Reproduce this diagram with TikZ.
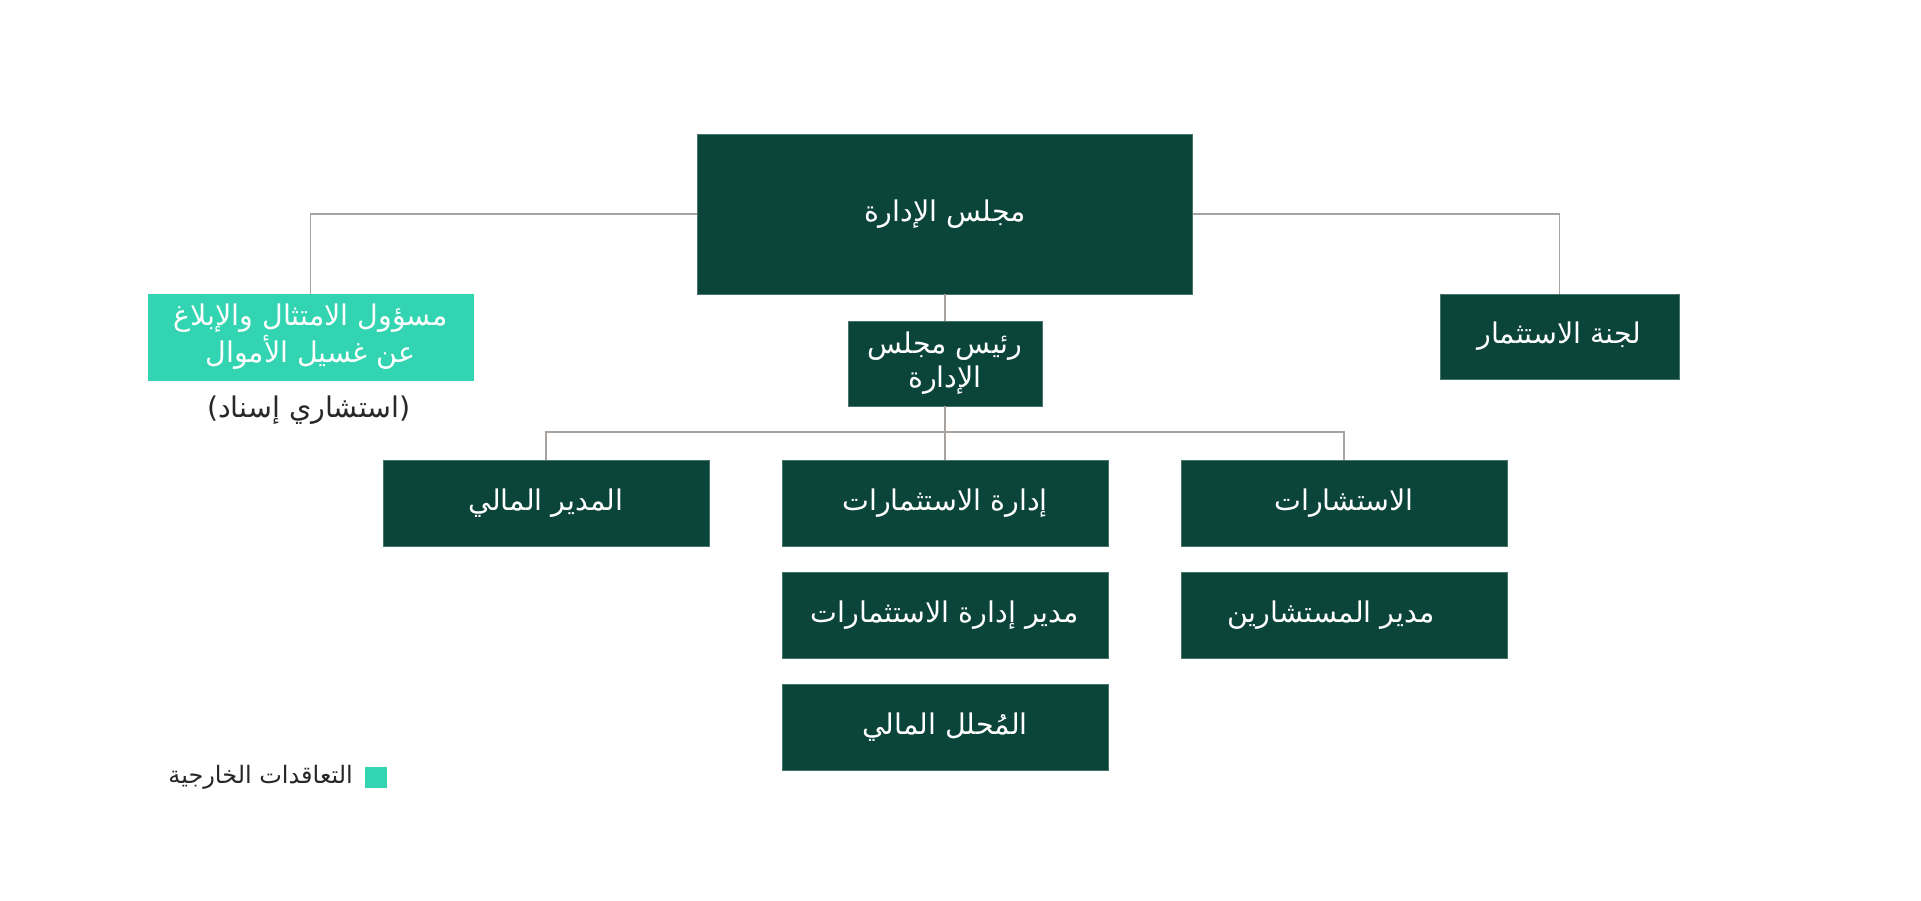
\documentclass[tikz,border=0pt]{standalone}
\usepackage{fontspec}
\TeXXeTstate=1
\newfontfamily\arabicfont[Script=Arabic]{DejaVu Sans}
\definecolor{dkgreen}{RGB}{11,69,58}
\definecolor{teal}{RGB}{51,212,177}
\definecolor{linegray}{RGB}{168,163,158}
\definecolor{txtdark}{RGB}{40,40,40}
\tikzset{
  box/.style={fill=dkgreen, draw=dkgreen!75!white, line width=0.5pt, text=white, inner sep=0pt,
    align=center, font=\arabicfont\fontsize{28.5}{34}\selectfont},
  extbox/.style={box, fill=teal, draw=teal, font=\arabicfont\fontsize{28.5}{37}\selectfont},
  conn/.style={draw=linegray, line width=1.3pt},
  note/.style={text=txtdark, inner sep=0pt, font=\arabicfont\fontsize{28.5}{34}\selectfont},
  legtext/.style={text=txtdark, inner sep=0pt, font=\arabicfont\fontsize{24}{28}\selectfont}
}
\begin{document}
\begin{tikzpicture}[x=1pt,y=-1pt]
\fill[white] (0,0) rectangle (1921,900);
\useasboundingbox (0,0) rectangle (1921,900);

\node[box, minimum width=495pt, minimum height=160pt] (board) at (945,214) {\beginR مجلس الإدارة\endR};
\node[extbox, minimum width=325pt, minimum height=86pt] (aml) at (310.5,337)
  {\beginR مسؤول الامتثال والإبلاغ\endR\\\beginR عن غسيل الأموال\endR};
\node[note] (amlnote) at (309,410) {)\beginR استشاري إسناد\endR(};
\node[box, minimum width=239pt, minimum height=85pt] (invc) at (1559.5,336.5) {\beginR لجنة الاستثمار\endR};
\node[box, minimum width=194pt, minimum height=85pt] (chair) at (945,363.5)
  {\beginR رئيس مجلس\endR\\\beginR الإدارة\endR};

\node[box, minimum width=326pt, minimum height=86pt] (cfo) at (546,503) {\beginR المدير المالي\endR};
\node[box, minimum width=326pt, minimum height=86pt] (invm) at (945,503) {\beginR إدارة الاستثمارات\endR};
\node[box, minimum width=326pt, minimum height=86pt] (cons) at (1344,503) {\beginR الاستشارات\endR};
\node[box, minimum width=326pt, minimum height=86pt] (invmgr) at (945,615) {\beginR مدير إدارة الاستثمارات\endR};
\node[box, minimum width=326pt, minimum height=86pt] (consmgr) at (1344,615) {\beginR مدير المستشارين\endR\hspace{26pt}};
\node[box, minimum width=326pt, minimum height=86pt] (analyst) at (945,727) {\beginR المُحلل المالي\endR};

\node[fill=teal, minimum width=22pt, minimum height=21pt, inner sep=0pt] (legsq) at (376,777.5) {};
\node[legtext, anchor=east] (legtxt) at (353,777) {\beginR التعاقدات الخارجية\endR};

\coordinate (bus) at (945,432);
\draw[conn] (board.west) -| (aml.north);
\draw[conn] (board.east) -| (invc.north);
\draw[conn] (board.south) -- (chair.north);
\draw[conn] (chair.south) -- (invm.north);
\draw[conn] (cfo.north) |- (bus) -| (cons.north);
\end{tikzpicture}
\end{document}
